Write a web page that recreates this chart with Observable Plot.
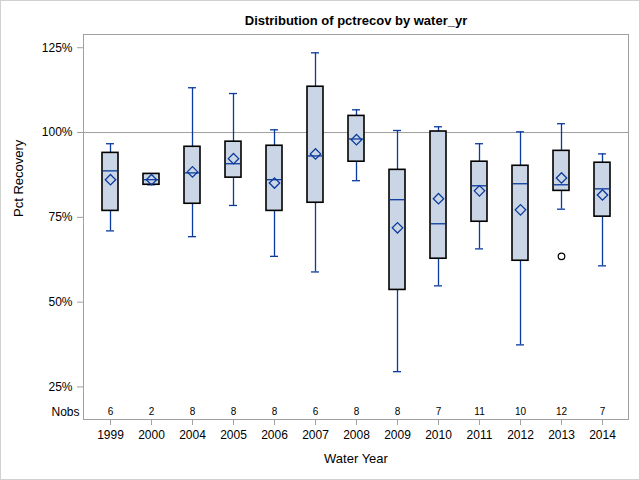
<!DOCTYPE html>
<html>
<head>
<meta charset="utf-8">
<script src="https://cdn.jsdelivr.net/npm/d3@7"></script>
<script src="https://cdn.jsdelivr.net/npm/@observablehq/plot@0.6"></script>
<style>
  html, body { margin: 0; padding: 0; background: white; }
  #wrap { position: relative; width: 640px; height: 480px; }
  #border { position: absolute; left: 0; top: 0; width: 640px; height: 480px; box-sizing: border-box; border: 1px solid #d0d0d0; pointer-events: none; }
</style>
</head>
<body>
<div id="wrap"><div id="border"></div></div>
<script>
const years      = ["1999","2000","2004","2005","2006","2007","2008","2009","2010","2011","2012","2013","2014"];
const whiskerLow = [71.0, 84.6, 69.3, 78.5, 63.5, 58.9, 85.8, 29.5, 54.8, 65.7, 37.4, 77.4, 60.7];
const q1         = [76.9, 84.6, 79.0, 86.7, 76.9, 79.3, 91.4, 53.6, 62.8, 73.7, 62.2, 82.8, 75.2];
const median     = [88.7, 86.1, 88.1, 90.8, 86.1, 93.1, 98.1, 80.2, 73.1, 84.3, 84.9, 84.6, 83.4];
const q3         = [94.0, 87.8, 95.8, 97.3, 96.1, 113.5, 104.9, 89.0, 100.3, 91.4, 90.2, 94.6, 91.1];
const whiskerHigh= [96.7, 87.8, 113.2, 111.5, 100.8, 123.5, 106.7, 100.6, 101.7, 96.7, 100.2, 102.6, 93.7];
const means      = [86.1, 86.1, 88.4, 92.3, 85.1, 93.7, 97.9, 71.9, 80.5, 82.8, 77.2, 86.6, 81.6];
const nobs       = [6, 2, 8, 8, 8, 6, 8, 8, 7, 11, 10, 12, 7];
const outlierYears  = ["2013"];
const outlierValues = [63.5];
const yTicks = [25, 50, 75, 100, 125];
const refLine = [100];

const rows = years.map((y, i) => ({
  year: y, lo: whiskerLow[i], q1: q1[i], med: median[i], q3: q3[i],
  hi: whiskerHigh[i], mean: means[i], n: nobs[i]
}));
const outliers = outlierYears.map((y, i) => ({year: y, v: outlierValues[i]}));

const blue = "#0a3a9e";
const font = "'Liberation Sans', Arial, sans-serif";

const chart = Plot.plot({
  width: 640,
  height: 480,
  marginTop: 34,
  marginBottom: 61,
  marginLeft: 83,
  marginRight: 12,
  style: {fontFamily: font, fontSize: "12px", color: "black", background: "transparent"},
  x: {type: "band", domain: years, paddingInner: 0.61, paddingOuter: 0.446, label: null},
  y: {domain: [15.4, 128.9], label: null},
  marks: [
    Plot.ruleY(refLine, {y: d => d, stroke: "#a0a0a0", strokeWidth: 1}),
    Plot.ruleX(rows, {x: "year", y1: "lo", y2: "hi", stroke: blue, strokeWidth: 1.3}),
    Plot.tickY(rows, {x: "year", y: "lo", stroke: blue, strokeWidth: 1.3, insetLeft: 4, insetRight: 4}),
    Plot.tickY(rows, {x: "year", y: "hi", stroke: blue, strokeWidth: 1.3, insetLeft: 4, insetRight: 4}),
    Plot.barY(rows, {x: "year", y1: "q1", y2: "q3", fill: "#cad5e5", stroke: "black", strokeWidth: 1.6}),
    Plot.tickY(rows, {x: "year", y: "med", stroke: blue, strokeWidth: 1.3, insetLeft: 1, insetRight: 1}),
    Plot.dot(rows, {x: "year", y: "mean", symbol: "diamond2", r: 4.7, stroke: blue, strokeWidth: 1.3, fill: "none"}),
    Plot.dot(outliers, {x: "year", y: "v", symbol: "circle", r: 3.3, stroke: "black", strokeWidth: 1.2, fill: "none"}),
    Plot.text(rows, {x: "year", text: d => String(d.n), frameAnchor: "bottom", lineAnchor: "middle", dy: -7.5, fontSize: 10, fill: "black"}),
    Plot.text(["Nobs"], {frameAnchor: "bottom-left", lineAnchor: "middle", dx: -4, dy: -7.5, textAnchor: "end", fontSize: 12, fill: "black"}),
    Plot.frame({stroke: "#a0a0a0"}),
    Plot.axisY({ticks: yTicks, tickSize: 6, tickPadding: 5, tickFormat: d => d + "%", stroke: "#a0a0a0", fill: "black", label: null}),
    Plot.axisX({tickSize: 6, tickPadding: 5, stroke: "#a0a0a0", fill: "black", label: null}),
    Plot.text(["Distribution of pctrecov by water_yr"], {frameAnchor: "top", lineAnchor: "middle", dy: -14, fontSize: 13, fontWeight: "bold", fill: "black"}),
    Plot.text(["Water Year"], {frameAnchor: "bottom", lineAnchor: "middle", dy: 39, fontSize: 13, fill: "black"}),
    Plot.text(["Pct Recovery"], {frameAnchor: "left", lineAnchor: "middle", dx: -65, dy: -10, rotate: -90, fontSize: 13, fill: "black"})
  ]
});
document.getElementById("wrap").prepend(chart);
</script>
</body>
</html>
